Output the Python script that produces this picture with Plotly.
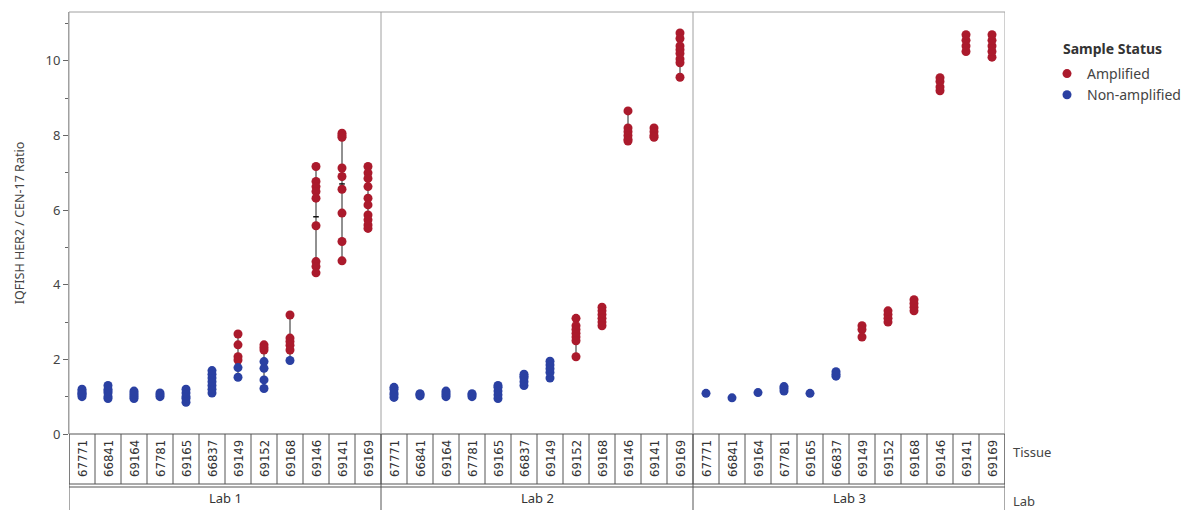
import plotly.graph_objects as go

# Tissue samples (same order in every lab) and lab names
tissues = ["67771", "66841", "69164", "67781", "69165", "66837",
           "69149", "69152", "69168", "69146", "69141", "69169"]
labs = ["Lab 1", "Lab 2", "Lab 3"]

# IQFISH HER2 / CEN-17 ratio replicates per tissue, split by sample status
lab1_amplified = [
    [], [], [], [], [], [],
    [2.68, 2.39, 2.07, 1.98],
    [2.39, 2.25, 2.32],
    [3.19, 2.57, 2.48, 2.38, 2.25],
    [7.17, 6.77, 6.63, 6.50, 6.32, 5.58, 4.62, 4.49, 4.32],
    [8.06, 8.00, 7.95, 7.13, 6.90, 6.56, 5.92, 5.16, 4.64],
    [7.17, 7.00, 6.85, 6.63, 6.32, 6.14, 5.87, 5.74, 5.60, 5.51],
]
lab1_nonamplified = [
    [1.00, 1.05, 1.10, 1.15, 1.20, 1.08],
    [0.95, 1.00, 1.10, 1.15, 1.20, 1.30],
    [0.95, 1.00, 1.05, 1.10, 1.15],
    [1.00, 1.05, 1.10],
    [0.85, 0.95, 1.00, 1.10, 1.20],
    [1.10, 1.20, 1.30, 1.40, 1.50, 1.60, 1.70],
    [1.78, 1.52],
    [1.94, 1.76, 1.45, 1.22],
    [1.97],
    [], [], [],
]
lab2_amplified = [
    [], [], [], [], [], [], [],
    [3.10, 2.90, 2.80, 2.70, 2.60, 2.50, 2.07],
    [3.40, 3.30, 3.20, 3.10, 3.00, 2.90],
    [8.66, 8.20, 8.10, 8.00, 7.90, 7.85],
    [8.20, 8.10, 8.00, 7.95],
    [10.75, 10.60, 10.40, 10.30, 10.20, 10.05, 9.95, 9.56],
]
lab2_nonamplified = [
    [0.98, 1.05, 1.10, 1.20, 1.25],
    [1.02, 1.06, 1.08],
    [1.00, 1.05, 1.10, 1.15],
    [1.00, 1.05, 1.08],
    [0.95, 1.05, 1.15, 1.25, 1.30],
    [1.30, 1.40, 1.50, 1.55, 1.60],
    [1.50, 1.65, 1.75, 1.85, 1.95],
    [], [], [], [], [],
]
lab3_amplified = [
    [], [], [], [], [], [],
    [2.90, 2.80, 2.60],
    [3.00, 3.10, 3.20, 3.30],
    [3.30, 3.40, 3.50, 3.60],
    [9.20, 9.30, 9.45, 9.55],
    [10.25, 10.40, 10.55, 10.70],
    [10.10, 10.25, 10.40, 10.55, 10.70],
]
lab3_nonamplified = [
    [1.09], [0.97], [1.11],
    [1.15, 1.22, 1.27],
    [1.09],
    [1.55, 1.60, 1.67],
    [], [], [], [], [], [],
]

amplified_by_lab = [lab1_amplified, lab2_amplified, lab3_amplified]
nonamplified_by_lab = [lab1_nonamplified, lab2_nonamplified, lab3_nonamplified]

RED = "#ab1a2c"
BLUE = "#2a40a2"
FONT = "Noto Sans"
n_t = len(tissues)

amp_x, amp_y, non_x, non_y = [], [], [], []
rng_x, rng_y, mean_x, mean_y = [], [], [], []
for li in range(len(labs)):
    for ti in range(n_t):
        pos = li * n_t + ti
        a = amplified_by_lab[li][ti]
        n = nonamplified_by_lab[li][ti]
        amp_x += [pos] * len(a)
        amp_y += a
        non_x += [pos] * len(n)
        non_y += n
        allv = a + n
        if allv:
            rng_x += [pos, pos, None]
            rng_y += [min(allv), max(allv), None]
            mean_x.append(pos)
            mean_y.append(sum(allv) / len(allv))

fig = go.Figure()
# min-max range bars and cell means
fig.add_trace(go.Scatter(x=rng_x, y=rng_y, mode="lines",
                         line=dict(color="#222222", width=1),
                         showlegend=False, hoverinfo="skip"))
fig.add_trace(go.Scatter(x=mean_x, y=mean_y, mode="markers",
                         marker=dict(symbol="line-ew", size=4,
                                     line=dict(color="#111111", width=1.5)),
                         showlegend=False, hoverinfo="skip"))
fig.add_trace(go.Scatter(x=amp_x, y=amp_y, mode="markers", name="Amplified",
                         marker=dict(color=RED, size=9)))
fig.add_trace(go.Scatter(x=non_x, y=non_y, mode="markers", name="Non-amplified",
                         marker=dict(color=BLUE, size=9)))

# pixel helpers for the label table under the plot (paper coordinates)
H_PLOT = 498.0
W_PLOT = 936.0
def py(p):
    return (510 - p) / H_PLOT
def px(p):
    return (p - 69) / W_PLOT

y_axis_bottom = py(434)
y_tissue_bottom = py(484)
y_lab_top = py(487)

shapes = []
line_dark = dict(color="#555555", width=1)
line_grey = dict(color="#a0a0a0", width=1)
n_all = n_t * len(labs)
# tissue cell separators
for i in range(n_all + 1):
    shapes.append(dict(type="line", xref="x", yref="paper",
                       x0=i - 0.5, x1=i - 0.5, y0=y_tissue_bottom, y1=y_axis_bottom,
                       line=line_dark))
# horizontal rules of the table
for yy in (y_axis_bottom, y_tissue_bottom, y_lab_top):
    shapes.append(dict(type="line", xref="x", yref="paper",
                       x0=-0.5, x1=n_all - 0.5, y0=yy, y1=yy, line=line_dark))
# lab panel dividers through plot and table
for li in range(len(labs) + 1):
    xx = li * n_t - 0.5
    shapes.append(dict(type="line", xref="x", yref="paper",
                       x0=xx, x1=xx, y0=0, y1=y_axis_bottom, line=line_dark))
    shapes.append(dict(type="line", xref="x", yref="paper",
                       x0=xx, x1=xx, y0=y_axis_bottom, y1=1, line=line_grey))
# top border
shapes.append(dict(type="line", xref="x", yref="paper",
                   x0=-0.5, x1=n_all - 0.5, y0=1, y1=1, line=line_grey))

annotations = []
for li in range(len(labs)):
    for ti in range(n_t):
        annotations.append(dict(x=li * n_t + ti, y=(y_axis_bottom + y_tissue_bottom) / 2,
                                xref="x", yref="paper", text=tissues[ti],
                                showarrow=False, textangle=-90,
                                xanchor="center", yanchor="middle",
                                font=dict(family="DejaVu Sans Condensed", size=13,
                                          color="#333333")))
    annotations.append(dict(x=li * n_t + (n_t - 1) / 2, y=py(498),
                            xref="x", yref="paper", text=labs[li], showarrow=False,
                            xanchor="center", yanchor="middle",
                            font=dict(family=FONT, size=13, color="#333333")))
annotations.append(dict(x=px(1011), y=py(452), xref="paper", yref="paper", text="Tissue",
                        showarrow=False, xanchor="left", yanchor="middle",
                        font=dict(family=FONT, size=13, color="#444444")))
annotations.append(dict(x=px(1011), y=py(501), xref="paper", yref="paper", text="Lab",
                        showarrow=False, xanchor="left", yanchor="middle",
                        font=dict(family=FONT, size=13, color="#444444")))
annotations.append(dict(x=px(1061), y=py(48), xref="paper", yref="paper",
                        text="<b>Sample Status</b>", showarrow=False,
                        xanchor="left", yanchor="middle",
                        font=dict(family=FONT, size=14, color="#333333")))

fig.update_layout(
    width=1197, height=510,
    margin=dict(l=69, r=192, t=12, b=0, autoexpand=False),
    paper_bgcolor="white", plot_bgcolor="white",
    font=dict(family=FONT, size=12, color="#444444"),
    xaxis=dict(range=[-0.5, n_all - 0.5], showticklabels=False, ticks="",
               showgrid=False, zeroline=False, showline=False, fixedrange=True,
               automargin=False),
    yaxis=dict(domain=[y_axis_bottom, 1], range=[0, 11.31], automargin=False,
               tickmode="array", tickvals=[0, 2, 4, 6, 8, 10],
               ticks="outside", ticklen=5, tickcolor="#666666",
               minor=dict(tickvals=[1, 3, 5, 7, 9, 11], ticks="outside",
                          ticklen=3, tickcolor="#666666"),
               showgrid=False, zeroline=False, showline=True,
               linecolor="#a0a0a0", linewidth=1,
               tickfont=dict(size=13, color="#444444"),
               title=dict(text="IQFISH HER2 / CEN-17 Ratio", standoff=18,
                          font=dict(size=12.5, color="#444444"))),
    legend=dict(x=px(1047), y=py(58), xanchor="left", yanchor="top",
                font=dict(size=14, color="#444444"), tracegroupgap=0,
                itemwidth=30, bgcolor="rgba(0,0,0,0)"),
    shapes=shapes, annotations=annotations,
)

fig.write_html("out.html")
